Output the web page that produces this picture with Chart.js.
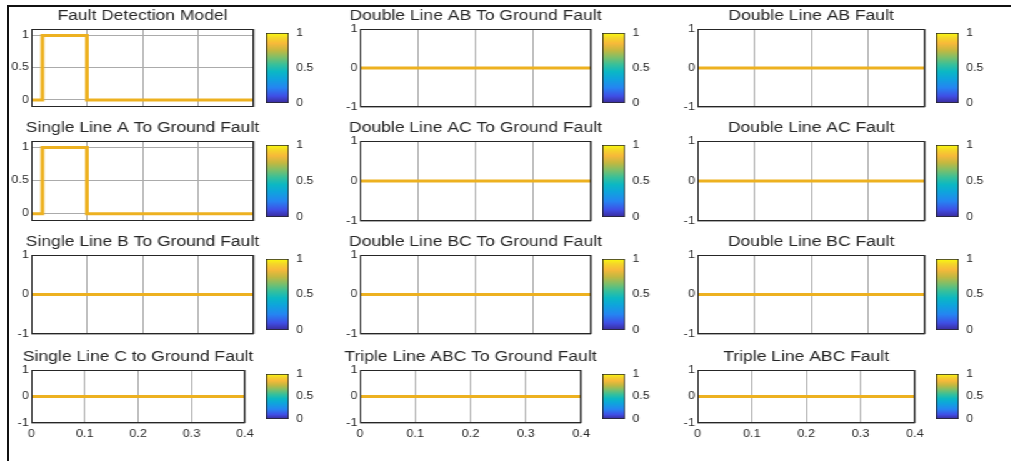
<!DOCTYPE html>
<html>
<head>
<meta charset="utf-8">
<title>Fault classification outputs</title>
<script src="https://cdn.jsdelivr.net/npm/chart.js@4.4.1/dist/chart.umd.min.js"></script>
<style>
  html, body { margin: 0; padding: 0; background: #fff; overflow: hidden; }
  #frame { position: absolute; left: 7px; top: 5px; width: 1010px; height: 460px;
           border-top: 2px solid #111; border-left: 2px solid #111; }
  /* the whole figure is stretched sideways */
  #fig { position: absolute; left: 0; top: 0; width: 809px; height: 461px;
         transform: scaleX(1.25); transform-origin: 0 0; }
  #fig canvas { position: absolute; }
</style>
</head>
<body>
<div id="frame"></div>
<div id="fig"></div>
<script>
// time base (s) shared by all subplots
const timeS = [0, 0.02, 0.1, 0.4];

// classifier outputs
const faultDetection = [0, 1, 0, 0];
const lineAG   = [0, 1, 0, 0];
const lineBG   = [0, 0, 0, 0];
const lineCG   = [0, 0, 0, 0];
const lineABG  = [0, 0, 0, 0];
const lineACG  = [0, 0, 0, 0];
const lineBCG  = [0, 0, 0, 0];
const lineABCG = [0, 0, 0, 0];
const lineAB   = [0, 0, 0, 0];
const lineAC   = [0, 0, 0, 0];
const lineBC   = [0, 0, 0, 0];
const lineABC  = [0, 0, 0, 0];

const titles = [
  'Fault Detection Model', 'Double Line AB To Ground Fault', 'Double Line AB Fault',
  'Single Line A To Ground Fault', 'Double Line AC To Ground Fault', 'Double Line AC Fault',
  'Single Line B To Ground Fault', 'Double Line BC To Ground Fault', 'Double Line BC Fault',
  'Single Line C to Ground Fault', 'Triple Line ABC To Ground Fault', 'Triple Line ABC Fault'
];
const series = [
  faultDetection, lineABG, lineAB,
  lineAG, lineACG, lineAC,
  lineBG, lineBCG, lineBC,
  lineCG, lineABCG, lineABC
];

const xTicks = [0, 0.1, 0.2, 0.3, 0.4];
const pulseYTicks = [0, 0.5, 1];
const flatYTicks = [-1, 0, 1];
const cbarTicks = [0, 0.5, 1];

// parula colormap for the colorbars
const parula = [
  [0.00, '#3b2a9b'], [0.10, '#3f4fe6'], [0.22, '#2585f2'], [0.35, '#0ea5dc'],
  [0.45, '#0bb8c4'], [0.55, '#38c09a'], [0.65, '#7dbf6a'], [0.75, '#c3b840'],
  [0.85, '#f7b93a'], [0.93, '#f5d52a'], [1.00, '#f9fb0e']
];

const SX = 1.25;
const colLeft = [31, 360, 697];
const colRight = [254, 591, 925];
const colRightLast = [245, 581, 915];
const cbarLeft = [266, 602, 936];
const cbarWidth = 22;
const rowTop = [29, 141, 255, 370];
const rowBottom = [107, 221, 334, 423];
const YAX = 24, TITLE_H = 20, CB_AX = 24;

const FONT = 'Liberation Sans, Arial, Helvetica, sans-serif';
const TXT = '#262626';
const GRID = '#ababab';
const LINE = '#EDB120';

const fig = document.getElementById('fig');
function addCanvas(left, top, w, h) {
  const c = document.createElement('canvas');
  c.width = w;
  c.height = h;
  c.style.left = left + 'px';
  c.style.top = top + 'px';
  fig.appendChild(c);
  return c;
}

// closed box round the plot area
const axesBox = {
  id: 'axesBox',
  afterDraw(chart) {
    const a = chart.chartArea, ctx = chart.ctx;
    const l = Math.round(a.left), t = Math.round(a.top);
    ctx.save();
    ctx.strokeStyle = TXT;
    ctx.lineWidth = 1;
    ctx.strokeRect(l + 0.5, t + 0.5, Math.round(a.right) - l - 1, Math.round(a.bottom) - t - 1);
    ctx.restore();
  }
};

function parulaFill(c) {
  const a = c.chart.chartArea;
  if (!a) return null;
  const g = c.chart.ctx.createLinearGradient(0, a.bottom, 0, a.top);
  parula.forEach(s => g.addColorStop(s[0], s[1]));
  return g;
}

series.forEach((vals, i) => {
  const r = Math.floor(i / 3), col = i % 3;
  const last = r === 3;
  const left = Math.round(colLeft[col] / SX);
  const right = Math.round((last ? colRightLast[col] : colRight[col]) / SX);
  const plotW = right - left;
  const plotH = rowBottom[r] - rowTop[r];
  const xH = last ? 22 : 8;
  const pulse = vals.some(v => v !== 0);
  const yTicks = pulse ? pulseYTicks : flatYTicks;

  const cv = addCanvas(left - YAX, rowTop[r] - TITLE_H, plotW + 2 * YAX, TITLE_H + plotH + xH);
  new Chart(cv, {
    type: 'line',
    data: {
      datasets: [{
        data: timeS.map((t, k) => ({ x: t, y: vals[k] })),
        stepped: 'before',
        borderColor: LINE,
        borderWidth: 3,
        borderCapStyle: 'butt',
        borderJoinStyle: 'miter',
        pointRadius: 0,
        fill: false
      }]
    },
    options: {
      responsive: false,
      animation: false,
      events: [],
      plugins: {
        legend: { display: false },
        tooltip: { enabled: false },
        title: {
          display: true,
          text: titles[i],
          color: TXT,
          font: { family: FONT, size: 14, weight: 'normal', lineHeight: 1 },
          padding: { top: 0, bottom: 6 }
        }
      },
      scales: {
        x: {
          type: 'linear',
          min: 0,
          max: 0.4,
          bounds: 'data',
          afterBuildTicks: s => { s.ticks = xTicks.map(v => ({ value: v })); },
          afterFit: s => { s.height = xH; },
          grid: { color: GRID, drawTicks: false },
          border: { display: false },
          ticks: {
            display: last,
            autoSkip: false,
            maxRotation: 0,
            padding: 5,
            color: TXT,
            font: { family: FONT, size: 10 },
            callback: v => String(v)
          }
        },
        y: {
          min: pulse ? -0.11 : -1,
          max: pulse ? 1.1 : 1,
          bounds: 'data',
          afterBuildTicks: s => { s.ticks = yTicks.map(v => ({ value: v })); },
          afterFit: s => { s.width = YAX; },
          grid: { color: GRID, drawTicks: false },
          border: { display: false },
          ticks: {
            padding: 2,
            color: TXT,
            font: { family: FONT, size: 10 },
            callback: v => String(v)
          }
        },
        // empty right-hand axis so the title sits centred over the plot
        yRight: {
          position: 'right',
          min: 0,
          max: 1,
          grid: { display: false, drawTicks: false },
          border: { display: false },
          ticks: { display: false },
          afterFit: s => { s.width = YAX; }
        }
      }
    },
    plugins: [axesBox]
  });

  // colorbar next to each subplot
  const cl = Math.round(cbarLeft[col] / SX);
  const cw = Math.round(cbarWidth / SX);
  const cb = addCanvas(cl, rowTop[r] - 8, cw + CB_AX, plotH + 16);
  new Chart(cb, {
    type: 'bar',
    data: {
      labels: [''],
      datasets: [{
        data: [[0, 1]],
        backgroundColor: parulaFill,
        borderColor: TXT,
        borderWidth: 1,
        borderSkipped: false,
        barPercentage: 1,
        categoryPercentage: 1
      }]
    },
    options: {
      responsive: false,
      animation: false,
      events: [],
      layout: { padding: { left: 0, right: 0, top: 8, bottom: 8 } },
      plugins: { legend: { display: false }, tooltip: { enabled: false } },
      scales: {
        x: { display: false },
        y: {
          position: 'right',
          min: 0,
          max: 1,
          bounds: 'data',
          afterBuildTicks: s => { s.ticks = cbarTicks.map(v => ({ value: v })); },
          afterFit: s => { s.width = CB_AX; },
          grid: { display: false, drawTicks: false },
          border: { display: false },
          ticks: {
            padding: 6,
            color: TXT,
            font: { family: FONT, size: 10 },
            callback: v => String(v)
          }
        }
      }
    }
  });
});
</script>
</body>
</html>
